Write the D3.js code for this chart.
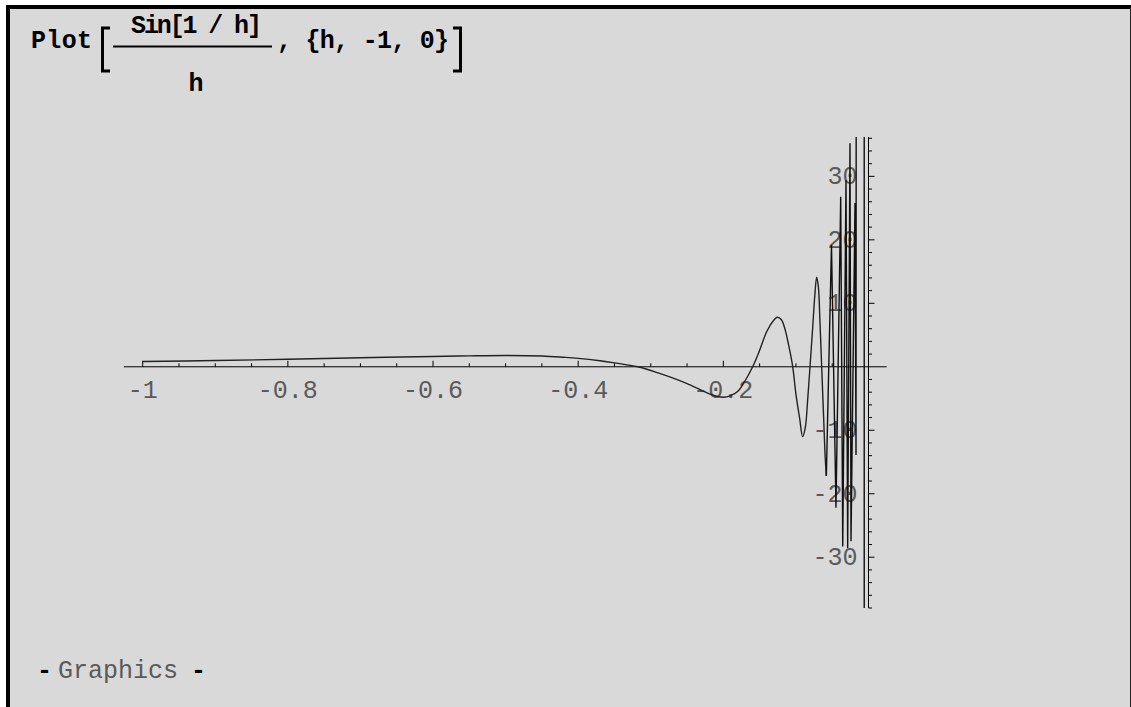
<!DOCTYPE html>
<html>
<head>
<meta charset="utf-8">
<script src="https://cdn.jsdelivr.net/npm/d3@7"></script>
<style>
  html, body { margin: 0; padding: 0; background: #fff; }
  svg { display: block; }
  .mono { font-family: "Liberation Mono", "DejaVu Sans Mono", monospace; }
</style>
</head>
<body>
<svg id="chart" width="1131" height="707"></svg>
<script>
// --- data ---
// smooth part of Sin[1/h]/h
const smoothH = [-1, -0.9, -0.8, -0.7, -0.6, -0.55, -0.5, -0.45, -0.42, -0.4, -0.37, -0.35, -0.318,
  -0.29, -0.27, -0.25, -0.23, -0.215, -0.2, -0.19, -0.18, -0.17, -0.1596, -0.15, -0.14, -0.13, -0.1257,
  -0.12, -0.115, -0.11, -0.1044, -0.1, -0.095, -0.0907, -0.087, -0.084, -0.0806, -0.077, -0.074,
  -0.0714, -0.069, -0.067, -0.0645, -0.062, -0.06, -0.0581];
const smoothV = [0.84, 0.98, 1.18, 1.42, 1.62, 1.72, 1.78, 1.70, 1.5, 1.33, 0.95, 0.62, 0,
  -0.95, -1.75, -2.65, -3.7, -4.45, -4.8, -4.55, -3.85, -2.2, 0, 2.6, 5.6, 7.4, 7.8,
  7.4, 5.9, 3.4, 0, -4.3, -8.0, -11.0, -9.5, -5.5, 0, 6, 11.2,
  14.1, 12.5, 7.5, 0, -7.5, -13.5, -17.2];
// spiky part near zero (sample to sample, straight segments)
const spikeH = [-0.0581, -0.051, -0.0448, -0.0383, -0.0355, -0.031, -0.0287, -0.0255, -0.0241,
  -0.0186, -0.0172, -0.0154, -0.0060, -0.0058];
const spikeV = [-17.2, 19.2, -22.2, 26.8, -28.3, 29.4, -28.6, 35.2, -27.5,
  25.8, -13.9, 400, 400, -400];

const xTickLabels = [-1, -0.8, -0.6, -0.4, -0.2];
const yTickLabels = [-30, -20, -10, 10, 20, 30];
const title = { fn: "Plot", num: "Sin[1 / h]", den: "h", rest: ", {h, -1, 0}" };

// --- layout ---
const svg = d3.select("#chart");
const W = 1131, H = 707;

const x = d3.scaleLinear().domain([-1, 0]).range([142.7, 868.5]);
const y = d3.scaleLinear().domain([-38, 36.2]).range([608, 137]);

// frame
svg.append("rect").attr("x", 0).attr("y", 0).attr("width", W).attr("height", H).attr("fill", "#fff");
svg.append("rect").attr("x", 7).attr("y", 7).attr("width", W - 7).attr("height", H - 7)
  .attr("fill", "#d9d9d9");
svg.append("path").attr("d", `M8,${H} V7 H${W}`).attr("fill", "none")
  .attr("stroke", "#000").attr("stroke-width", 4);
svg.append("line").attr("x1", W - 0.5).attr("x2", W - 0.5).attr("y1", 7).attr("y2", H)
  .attr("stroke", "#222").attr("stroke-width", 1);

// title  Plot[ Sin[1/h] / h , {h, -1, 0}]
const t = svg.append("g").attr("class", "mono").style("font-weight", "bold")
  .style("font-size", "25px").attr("fill", "#000");
t.append("text").attr("x", 31).attr("y", 48).attr("textLength", 61).attr("lengthAdjust", "spacing")
  .text(title.fn);
t.append("path").attr("d", "M110,28 H102.5 V71 H110").attr("fill", "none")
  .attr("stroke", "#000").attr("stroke-width", 3);
t.append("text").attr("x", 131).attr("y", 33).attr("textLength", 131).attr("lengthAdjust", "spacing")
  .text(title.num);
t.append("line").attr("x1", 113).attr("x2", 272).attr("y1", 46.5).attr("y2", 46.5)
  .attr("stroke", "#000").attr("stroke-width", 2);
t.append("text").attr("x", 196).attr("y", 91).attr("text-anchor", "middle").text(title.den);
t.append("text").attr("x", 277).attr("y", 48).attr("textLength", 172).attr("lengthAdjust", "spacing")
  .text(title.rest);
t.append("path").attr("d", "M453,28 H460.5 V71 H453").attr("fill", "none")
  .attr("stroke", "#000").attr("stroke-width", 3);

// axes
const ax = svg.append("g");
ax.append("line").attr("x1", x(-1.026)).attr("x2", x(0.025)).attr("y1", y(0)).attr("y2", y(0))
  .attr("stroke", "#000").attr("stroke-width", 1);
ax.append("line").attr("x1", x(0)).attr("x2", x(0)).attr("y1", y(36.2)).attr("y2", y(-38))
  .attr("stroke", "#000").attr("stroke-width", 1);

const xMinor = d3.range(-1, -0.01, 0.05);
ax.selectAll(".xt").data(xMinor).enter().append("line")
  .attr("x1", d => x(d)).attr("x2", d => x(d))
  .attr("y1", y(0)).attr("y2", d => y(0) - (Math.abs(d * 5 - Math.round(d * 5)) < 1e-6 ? 6 : 3.5))
  .attr("stroke", "#000").attr("stroke-width", 1);

const yMinor = d3.range(-38, 37, 2).filter(d => d !== 0);
ax.selectAll(".yt").data(yMinor).enter().append("line")
  .attr("y1", d => y(d)).attr("y2", d => y(d))
  .attr("x1", x(0)).attr("x2", d => x(0) + (d % 10 === 0 ? 6 : 3.5))
  .attr("stroke", "#000").attr("stroke-width", 1);

const lab = svg.append("g").attr("class", "mono").style("font-size", "25px").attr("fill", "#5a5a5a");
lab.selectAll(".xl").data(xTickLabels).enter().append("text")
  .attr("x", d => x(d)).attr("y", 398).attr("text-anchor", "middle")
  .text(d => String(d));
lab.selectAll(".yl").data(yTickLabels).enter().append("text")
  .attr("x", x(0) - 11).attr("y", d => y(d) + 8).attr("text-anchor", "end")
  .text(d => d);

// curve, clipped to the plot range
svg.append("clipPath").attr("id", "clip").append("rect")
  .attr("x", 0).attr("y", y(36.2)).attr("width", W).attr("height", y(-38) - y(36.2));
const curve = svg.append("g").attr("clip-path", "url(#clip)");

const smooth = d3.line().x((d, i) => x(smoothH[i])).y((d, i) => y(smoothV[i]))
  .curve(d3.curveCatmullRom.alpha(0.5));
const spiky = d3.line().x((d, i) => x(spikeH[i])).y((d, i) => y(spikeV[i]));

curve.append("path").attr("d", smooth(smoothH)).attr("fill", "none")
  .attr("stroke", "#222").attr("stroke-width", 1.4);
curve.append("path").attr("d", spiky(spikeH)).attr("fill", "none")
  .attr("stroke", "#111").attr("stroke-width", 1.4);

// - Graphics -
const g2 = svg.append("g").attr("class", "mono").style("font-size", "25px");
g2.append("text").attr("x", 37).attr("y", 678).style("font-weight", "bold").attr("fill", "#000").text("-");
g2.append("text").attr("x", 58).attr("y", 678).attr("fill", "#5a5a5a").text("Graphics");
g2.append("text").attr("x", 191).attr("y", 678).style("font-weight", "bold").attr("fill", "#000").text("-");
</script>
</body>
</html>
